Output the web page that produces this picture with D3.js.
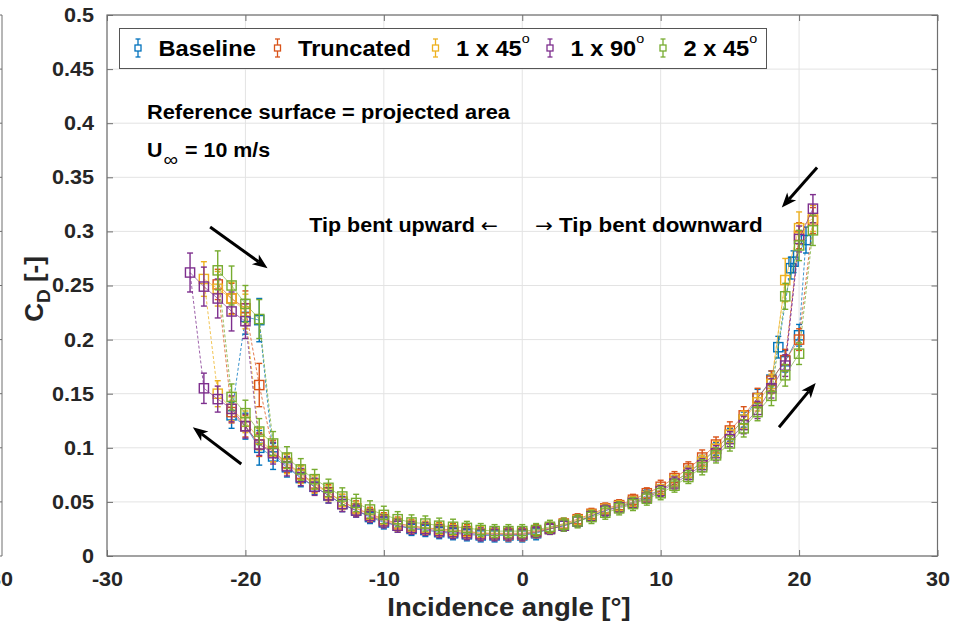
<!DOCTYPE html>
<html>
<head>
<meta charset="utf-8">
<script src="https://cdn.jsdelivr.net/npm/d3@7"></script>
<style>
  body { margin: 0; background: #fff; }
  svg { display: block; }
  text { font-family: "Liberation Sans", Arial, Helvetica, sans-serif; }
</style>
</head>
<body>
<svg id="chart" width="953" height="623"></svg>
<script>
// ---------- axis ticks ----------
const xTicks = [-30, -20, -10, 0, 10, 20, 30];
const yTicks = [0, 0.05, 0.1, 0.15, 0.2, 0.25, 0.3, 0.35, 0.4, 0.45, 0.5];

// ---------- series ----------
const seriesNames = ["Baseline", "Truncated", "1 x 45", "1 x 90", "2 x 45"];
const seriesDegree = [false, false, true, true, true];
const seriesColors = ["#0072BD", "#D95319", "#EDB120", "#7E2F8E", "#77AC30"];

// Attached-flow branch: first angle, then CD and error half-width at 1° steps
const baselineLowerStart = -21;
const baselineLowerCD = [
  0.130, 0.120, 0.100, 0.092, 0.082, 0.072, 0.064, 0.056, 0.048, 0.042,
  0.036, 0.031, 0.028, 0.025, 0.024, 0.022, 0.021, 0.020, 0.019, 0.019,
  0.019, 0.019, 0.021, 0.025, 0.028, 0.032, 0.037, 0.042, 0.046, 0.050,
  0.056, 0.061, 0.069, 0.077, 0.087, 0.099, 0.112, 0.126, 0.146, 0.163,
  0.180, 0.204];
const baselineLowerErr = [
  0.012, 0.012, 0.016, 0.012, 0.009, 0.008, 0.007, 0.007, 0.007, 0.006,
  0.006, 0.006, 0.006, 0.006, 0.006, 0.006, 0.006, 0.006, 0.006, 0.006,
  0.006, 0.006, 0.006, 0.005, 0.005, 0.005, 0.005, 0.005, 0.005, 0.005,
  0.005, 0.005, 0.005, 0.006, 0.006, 0.006, 0.006, 0.007, 0.008, 0.008,
  0.010, 0.010];

const truncatedLowerStart = -21;
const truncatedLowerCD = [
  0.133, 0.120, 0.103, 0.097, 0.086, 0.076, 0.067, 0.059, 0.050, 0.044,
  0.039, 0.034, 0.030, 0.028, 0.026, 0.025, 0.024, 0.023, 0.021, 0.021,
  0.021, 0.021, 0.023, 0.026, 0.030, 0.034, 0.039, 0.044, 0.047, 0.052,
  0.058, 0.064, 0.072, 0.081, 0.091, 0.103, 0.116, 0.130, 0.146, 0.162,
  0.181, 0.200];
const truncatedLowerErr = [
  0.010, 0.010, 0.011, 0.010, 0.009, 0.008, 0.008, 0.007, 0.007, 0.007,
  0.006, 0.006, 0.006, 0.006, 0.006, 0.006, 0.006, 0.006, 0.006, 0.006,
  0.006, 0.006, 0.006, 0.005, 0.005, 0.005, 0.005, 0.005, 0.005, 0.005,
  0.005, 0.006, 0.006, 0.006, 0.007, 0.007, 0.008, 0.008, 0.009, 0.009,
  0.010, 0.010];

const bent45LowerStart = -22;
const bent45LowerCD = [
  0.150, 0.136, 0.124, 0.108, 0.096, 0.085, 0.075, 0.066, 0.058, 0.050,
  0.044, 0.038, 0.033, 0.029, 0.027, 0.026, 0.024, 0.023, 0.022, 0.021,
  0.021, 0.020, 0.020, 0.022, 0.025, 0.029, 0.033, 0.038, 0.043, 0.046,
  0.050, 0.055, 0.061, 0.069, 0.077, 0.087, 0.099, 0.112, 0.126, 0.142,
  0.159];
const bent45LowerErr = [
  0.012, 0.011, 0.010, 0.010, 0.009, 0.009, 0.008, 0.008, 0.007, 0.007,
  0.006, 0.006, 0.006, 0.006, 0.006, 0.006, 0.006, 0.006, 0.006, 0.006,
  0.006, 0.006, 0.006, 0.005, 0.005, 0.005, 0.005, 0.005, 0.005, 0.005,
  0.005, 0.005, 0.005, 0.006, 0.006, 0.006, 0.007, 0.007, 0.008, 0.008,
  0.009];

const bent90LowerStart = -23;
const bent90LowerCD = [
  0.155, 0.145, 0.136, 0.120, 0.103, 0.095, 0.083, 0.073, 0.064, 0.056,
  0.048, 0.042, 0.037, 0.032, 0.028, 0.026, 0.025, 0.023, 0.022, 0.021,
  0.020, 0.020, 0.020, 0.020, 0.022, 0.025, 0.028, 0.032, 0.037, 0.042,
  0.045, 0.049, 0.054, 0.060, 0.067, 0.075, 0.084, 0.095, 0.108, 0.121,
  0.135, 0.155, 0.176];
const bent90LowerErr = [
  0.014, 0.012, 0.012, 0.011, 0.010, 0.010, 0.009, 0.008, 0.008, 0.007,
  0.007, 0.006, 0.006, 0.006, 0.006, 0.006, 0.006, 0.006, 0.006, 0.006,
  0.006, 0.006, 0.006, 0.006, 0.005, 0.005, 0.005, 0.005, 0.005, 0.005,
  0.005, 0.005, 0.005, 0.005, 0.006, 0.006, 0.006, 0.007, 0.007, 0.008,
  0.008, 0.009, 0.010];

const double45LowerStart = -21;
const double45LowerCD = [
  0.147, 0.132, 0.115, 0.104, 0.091, 0.080, 0.071, 0.063, 0.055, 0.049,
  0.043, 0.038, 0.034, 0.031, 0.030, 0.028, 0.027, 0.026, 0.024, 0.023,
  0.023, 0.023, 0.024, 0.027, 0.029, 0.032, 0.036, 0.040, 0.044, 0.048,
  0.053, 0.058, 0.065, 0.073, 0.082, 0.093, 0.104, 0.118, 0.133, 0.148,
  0.167, 0.187];
const double45LowerErr = [
  0.012, 0.012, 0.012, 0.011, 0.010, 0.010, 0.009, 0.008, 0.008, 0.008,
  0.008, 0.008, 0.007, 0.007, 0.007, 0.007, 0.007, 0.006, 0.006, 0.006,
  0.006, 0.006, 0.006, 0.006, 0.006, 0.006, 0.006, 0.006, 0.006, 0.006,
  0.006, 0.006, 0.006, 0.006, 0.007, 0.007, 0.007, 0.008, 0.008, 0.009,
  0.010, 0.010];

// Separated-flow branch at negative incidence
const baselineUpLeftA = [-20, -19];
const baselineUpLeftCD = [0.221, 0.218];
const baselineUpLeftErr = [0.016, 0.020];
const truncatedUpLeftA = [-22, -21, -20];
const truncatedUpLeftCD = [0.251, 0.238, 0.229];
const truncatedUpLeftErr = [0.014, 0.014, 0.016];
const bent45UpLeftA = [-23, -22, -21, -20];
const bent45UpLeftCD = [0.256, 0.247, 0.238, 0.226];
const bent45UpLeftErr = [0.016, 0.016, 0.015, 0.016];
const bent90UpLeftA = [-24, -23, -22, -21, -20];
const bent90UpLeftCD = [0.262, 0.249, 0.238, 0.226, 0.217];
const bent90UpLeftErr = [0.018, 0.018, 0.018, 0.018, 0.016];
const double45UpLeftA = [-22, -21, -20, -19];
const double45UpLeftCD = [0.264, 0.250, 0.233, 0.219];
const double45UpLeftErr = [0.018, 0.018, 0.017, 0.018];

// Intermediate points measured while the flow re-attaches
const truncatedDropLeftA = [-19];
const truncatedDropLeftCD = [0.158];
const truncatedDropLeftErr = [0.020];
const baselineDropRightA = [18.5];
const baselineDropRightCD = [0.193];
const baselineDropRightErr = [0.010];

// Separated-flow branch at positive incidence
const baselineUpRightA = [19.4, 19.6, 20.5];
const baselineUpRightCD = [0.266, 0.272, 0.292];
const baselineUpRightErr = [0.010, 0.010, 0.012];
const truncatedUpRightA = [20, 21];
const truncatedUpRightCD = [0.296, 0.310];
const truncatedUpRightErr = [0.012, 0.012];
const bent45UpRightA = [19, 20, 21];
const bent45UpRightCD = [0.255, 0.303, 0.312];
const bent45UpRightErr = [0.020, 0.015, 0.012];
const bent90UpRightA = [20, 21];
const bent90UpRightCD = [0.293, 0.321];
const bent90UpRightErr = [0.012, 0.013];
const double45UpRightA = [19, 20, 21];
const double45UpRightCD = [0.240, 0.287, 0.301];
const double45UpRightErr = [0.012, 0.014, 0.014];

// ---------- assemble ----------
function pts(a, cd, err) { return a.map((v, i) => ({ a: v, cd: cd[i], e: err[i] })); }
function lowerPts(start, cd, err) { return pts(cd.map((_, i) => start + i), cd, err); }

const series = [
  { lower: lowerPts(baselineLowerStart, baselineLowerCD, baselineLowerErr),
    upL: pts(baselineUpLeftA, baselineUpLeftCD, baselineUpLeftErr), dropL: [],
    upR: pts(baselineUpRightA, baselineUpRightCD, baselineUpRightErr),
    dropR: pts(baselineDropRightA, baselineDropRightCD, baselineDropRightErr) },
  { lower: lowerPts(truncatedLowerStart, truncatedLowerCD, truncatedLowerErr),
    upL: pts(truncatedUpLeftA, truncatedUpLeftCD, truncatedUpLeftErr),
    dropL: pts(truncatedDropLeftA, truncatedDropLeftCD, truncatedDropLeftErr),
    upR: pts(truncatedUpRightA, truncatedUpRightCD, truncatedUpRightErr), dropR: [] },
  { lower: lowerPts(bent45LowerStart, bent45LowerCD, bent45LowerErr),
    upL: pts(bent45UpLeftA, bent45UpLeftCD, bent45UpLeftErr), dropL: [],
    upR: pts(bent45UpRightA, bent45UpRightCD, bent45UpRightErr), dropR: [] },
  { lower: lowerPts(bent90LowerStart, bent90LowerCD, bent90LowerErr),
    upL: pts(bent90UpLeftA, bent90UpLeftCD, bent90UpLeftErr), dropL: [],
    upR: pts(bent90UpRightA, bent90UpRightCD, bent90UpRightErr), dropR: [] },
  { lower: lowerPts(double45LowerStart, double45LowerCD, double45LowerErr),
    upL: pts(double45UpLeftA, double45UpLeftCD, double45UpLeftErr), dropL: [],
    upR: pts(double45UpRightA, double45UpRightCD, double45UpRightErr), dropR: [] }
].map((s, i) => Object.assign(s, { name: seriesNames[i], deg: seriesDegree[i], color: seriesColors[i] }));

// ---------- layout ----------
const svg = d3.select("#chart");
const box = { left: 107, right: 937.5, top: 15, bottom: 556 };
const x = d3.scaleLinear().domain([-30, 30]).range([box.left, box.right]);
const y = d3.scaleLinear().domain([0, 0.5]).range([box.bottom, box.top]);
const axisColor = "#6f6f6f";
const textColor = "#262626";
const fmtY = d => String(+d.toFixed(2));

// widen glyphs horizontally (the typeface is set a little wide)
function widen(sel, k) {
  sel.each(function () {
    const L = this.getComputedTextLength();
    d3.select(this).attr("textLength", L * k).attr("lengthAdjust", "spacingAndGlyphs");
  });
}

// neighbouring panel edge on the far left
const edge = svg.append("g");
edge.append("line").attr("x1", 2).attr("x2", 2).attr("y1", box.top).attr("y2", box.bottom)
  .attr("stroke", axisColor).attr("stroke-width", 1);
edge.selectAll("line.t").data(yTicks).join("line").attr("class", "t")
  .attr("x1", -4).attr("x2", 2).attr("y1", d => y(d)).attr("y2", d => y(d))
  .attr("stroke", axisColor);
edge.append("text").attr("x", 13).attr("y", 586).attr("text-anchor", "end")
  .attr("font-size", 20).attr("font-weight", "bold").attr("fill", textColor).text("30")
  .call(widen, 1.08);

// grid
const grid = svg.append("g").attr("stroke", "#e3e3e3").attr("stroke-width", 1);
grid.selectAll("line.gx").data(xTicks).join("line").attr("class", "gx")
  .attr("x1", d => x(d)).attr("x2", d => x(d)).attr("y1", box.top).attr("y2", box.bottom);
grid.selectAll("line.gy").data(yTicks).join("line").attr("class", "gy")
  .attr("x1", box.left).attr("x2", box.right).attr("y1", d => y(d)).attr("y2", d => y(d));

// axes (ticks point inward)
function styleAxis(g) {
  g.select(".domain").remove();
  g.selectAll(".tick line").attr("stroke", axisColor);
  g.selectAll(".tick text").attr("fill", textColor).attr("font-size", 20)
    .attr("font-weight", "bold").attr("font-family", "'Liberation Sans', Arial, sans-serif")
    .call(widen, 1.08);
}
svg.append("g").attr("transform", `translate(0,${box.bottom})`)
  .call(d3.axisBottom(x).tickValues(xTicks).tickFormat(d => String(d)).tickSizeInner(-6).tickPadding(16))
  .call(styleAxis);
svg.append("g").attr("transform", `translate(0,${box.top})`)
  .call(d3.axisTop(x).tickValues(xTicks).tickFormat("").tickSizeInner(-6)).call(styleAxis);
svg.append("g").attr("transform", `translate(${box.left},0)`)
  .call(d3.axisLeft(y).tickValues(yTicks).tickFormat(fmtY).tickSizeInner(-6).tickPadding(13))
  .call(styleAxis);
svg.append("g").attr("transform", `translate(${box.right},0)`)
  .call(d3.axisRight(y).tickValues(yTicks).tickFormat("").tickSizeInner(-6)).call(styleAxis);

svg.append("rect").attr("x", box.left).attr("y", box.top)
  .attr("width", box.right - box.left).attr("height", box.bottom - box.top)
  .attr("fill", "none").attr("stroke", axisColor).attr("stroke-width", 1.2);

// axis labels
svg.append("text").attr("x", 509).attr("y", 616)
  .attr("text-anchor", "middle").attr("font-size", 25).attr("font-weight", "bold")
  .attr("fill", textColor).text("Incidence angle [°]").call(widen, 1.1);
const yl = svg.append("text").attr("transform", "translate(43,289) rotate(-90)")
  .attr("text-anchor", "middle").attr("font-size", 26).attr("font-weight", "bold").attr("fill", textColor);
yl.append("tspan").text("C");
yl.append("tspan").attr("font-size", 19).attr("dy", 7).text("D");
yl.append("tspan").attr("dy", -7).text(" [-]");

// ---------- data marks ----------
const plot = svg.append("g");
const line = d3.line().x(d => x(d.a)).y(d => y(d.cd));
const half = 4.6, cap = 3;

series.forEach(s => {
  const g = plot.append("g");
  const lower = s.lower;
  const lo0 = lower[0], loN = lower[lower.length - 1];

  // jumps between the branches
  const upLBelow = s.upL.filter(p => p.a < lo0.a);
  const upLStart = upLBelow.length ? upLBelow[upLBelow.length - 1] : s.upL[0];
  const upLEnd = s.upL[s.upL.length - 1];
  const afterL = s.dropL.length ? s.dropL[s.dropL.length - 1].a : upLEnd.a;
  const reattachL = lower.find(p => p.a > afterL);
  const upRAbove = s.upR.filter(p => p.a > loN.a);
  const upRStart = upRAbove.length ? upRAbove[0] : s.upR[s.upR.length - 1];
  const upREnd = s.upR[0];
  const afterR = s.dropR.length ? s.dropR[s.dropR.length - 1].a : upREnd.a;
  const reattachR = [...lower].reverse().find(p => p.a < afterR);
  const jumps = [
    [lo0, upLStart],
    [upLEnd, ...s.dropL, reattachL],
    [loN, upRStart],
    [upREnd, ...s.dropR, reattachR]
  ];

  g.selectAll("path.jump").data(jumps).join("path").attr("class", "jump")
    .attr("d", line).attr("fill", "none").attr("stroke", s.color)
    .attr("stroke-width", 0.9).attr("stroke-dasharray", "3,2").attr("opacity", 0.85);
  g.selectAll("path.branch").data([lower, s.upL, s.upR]).join("path").attr("class", "branch")
    .attr("d", line).attr("fill", "none").attr("stroke", s.color)
    .attr("stroke-width", 0.8).attr("opacity", 0.8);

  const all = [...lower, ...s.upL, ...s.dropL, ...s.upR, ...s.dropR];
  const eb = g.selectAll("g.eb").data(all).join("g").attr("class", "eb")
    .attr("stroke", s.color).attr("stroke-width", 1.4);
  eb.append("line").attr("x1", d => x(d.a)).attr("x2", d => x(d.a))
    .attr("y1", d => y(d.cd + d.e)).attr("y2", d => y(d.cd - d.e));
  eb.append("line").attr("x1", d => x(d.a) - cap).attr("x2", d => x(d.a) + cap)
    .attr("y1", d => y(d.cd + d.e)).attr("y2", d => y(d.cd + d.e));
  eb.append("line").attr("x1", d => x(d.a) - cap).attr("x2", d => x(d.a) + cap)
    .attr("y1", d => y(d.cd - d.e)).attr("y2", d => y(d.cd - d.e));
  g.selectAll("rect.m").data(all).join("rect").attr("class", "m")
    .attr("x", d => x(d.a) - half).attr("y", d => y(d.cd) - half)
    .attr("width", 2 * half).attr("height", 2 * half)
    .attr("fill", "none").attr("stroke", s.color).attr("stroke-width", 1.4);
});

// ---------- sweep-direction arrows ----------
const arrowSegs = [
  [[-22.55, 0.304], [-18.4, 0.266]],
  [[-20.3, 0.085], [-23.8, 0.119]],
  [[21.3, 0.359], [18.75, 0.322]],
  [[18.55, 0.119], [21.2, 0.160]]
];
const arrows = svg.append("g");
arrowSegs.forEach(([p0, p1]) => {
  const x0 = x(p0[0]), y0 = y(p0[1]), x1 = x(p1[0]), y1 = y(p1[1]);
  const ang = Math.atan2(y1 - y0, x1 - x0);
  const L = 15, W = 6, back = 11;
  const ux = Math.cos(ang), uy = Math.sin(ang), nx = -uy, ny = ux;
  arrows.append("line").attr("x1", x0).attr("y1", y0)
    .attr("x2", x1 - ux * back).attr("y2", y1 - uy * back)
    .attr("stroke", "#000").attr("stroke-width", 3);
  const tip = [x1, y1];
  const l = [x1 - ux * L + nx * W, y1 - uy * L + ny * W];
  const m = [x1 - ux * back, y1 - uy * back];
  const r = [x1 - ux * L - nx * W, y1 - uy * L - ny * W];
  arrows.append("path").attr("d", `M${tip}L${l}L${m}L${r}Z`).attr("fill", "#000");
});

// ---------- annotations ----------
const ann = svg.append("g").attr("font-weight", "bold").attr("fill", "#000").attr("font-size", 20);
ann.append("text").attr("x", 147).attr("y", y(0.404)).text("Reference surface = projected area")
  .call(widen, 1.09);
const u = ann.append("text").attr("x", 147).attr("y", y(0.369));
u.append("tspan").text("U");
u.append("tspan").attr("font-size", 19).attr("font-weight", "normal").attr("dy", 9).attr("dx", 1).text("∞");
u.append("tspan").attr("dy", -9).attr("dx", 1).text(" = 10 m/s");
u.call(widen, 1.09);
const tl = ann.append("text").attr("x", 498).attr("y", y(0.2995)).attr("text-anchor", "end");
tl.append("tspan").text("Tip bent upward ");
tl.append("tspan").attr("font-weight", "normal").attr("font-size", 19)
  .attr("font-family", "'DejaVu Sans', sans-serif").text("←");
tl.call(widen, 1.075);
const tr = ann.append("text").attr("x", 535).attr("y", y(0.2995));
tr.append("tspan").attr("font-weight", "normal").attr("font-size", 19)
  .attr("font-family", "'DejaVu Sans', sans-serif").text("→");
tr.append("tspan").text(" Tip bent downward");
tr.call(widen, 1.12);

// ---------- legend ----------
const lg = svg.append("g");
lg.append("rect").attr("x", 119.5).attr("y", 28.5).attr("width", 647).attr("height", 40)
  .attr("fill", "#fff").attr("stroke", "#555").attr("stroke-width", 1);
const legendX = [138, 277.5, 435.5, 550, 663];
series.forEach((s, i) => {
  const cx = legendX[i], cy = 48;
  const g = lg.append("g").attr("stroke", s.color).attr("stroke-width", 1.3);
  g.append("line").attr("x1", cx).attr("x2", cx).attr("y1", cy - 9).attr("y2", cy + 9);
  g.append("line").attr("x1", cx - 2.5).attr("x2", cx + 2.5).attr("y1", cy - 9).attr("y2", cy - 9);
  g.append("line").attr("x1", cx - 2.5).attr("x2", cx + 2.5).attr("y1", cy + 9).attr("y2", cy + 9);
  g.append("rect").attr("x", cx - 3).attr("y", cy - 3).attr("width", 6).attr("height", 6)
    .attr("fill", "#fff");
  const t = lg.append("text").attr("x", cx + 20.5).attr("y", cy + 7.5).attr("font-size", 21.5)
    .attr("font-weight", "bold").attr("fill", "#000");
  t.append("tspan").text(s.name);
  if (s.deg) t.append("tspan").attr("font-size", 13).attr("font-weight", "normal").attr("dy", -13).text("o");
  t.call(widen, 1.1);
});
</script>
</body>
</html>
